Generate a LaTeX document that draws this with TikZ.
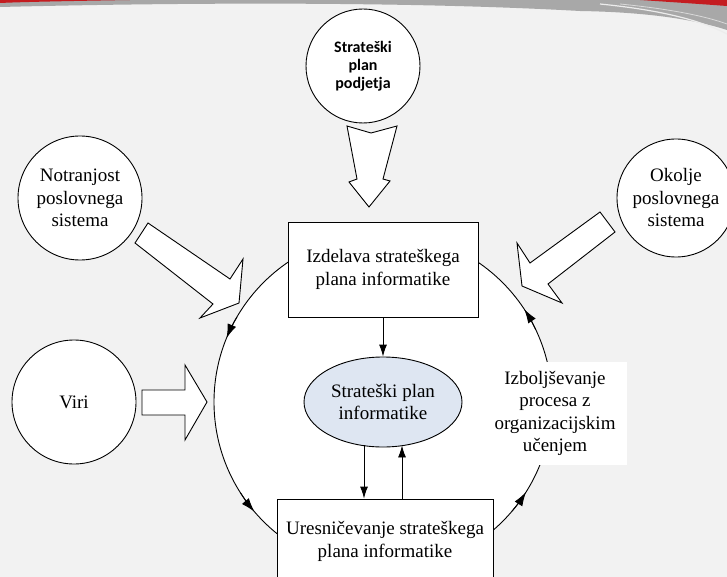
\documentclass[tikz,border=0pt]{standalone}
\usepackage{fontspec}
\setmainfont{Liberation Serif}
\newfontfamily\calib{Carlito}
\usetikzlibrary{arrows.meta,shapes.geometric,calc}
\definecolor{bgc}{RGB}{242,242,242}
\definecolor{bandgray}{RGB}{168,168,168}
\definecolor{bandred}{RGB}{196,28,32}
\definecolor{ellfill}{RGB}{222,230,242}
\tikzset{
  body/.style={font=\fontsize{19}{22.5}\selectfont, align=center},
  boxnode/.style={body, draw, fill=white, inner sep=0pt},
  circnode/.style={body, draw, fill=white, circle, inner sep=0pt},
  blockarrow/.style={draw, fill=white, line join=miter},
  conn/.style={-{Latex[length=12pt,width=8pt]}},
  circarr/.style={-{Latex[length=14pt,width=9pt]}},
}
\begin{document}
\begin{tikzpicture}[x=1pt,y=-1pt,line width=0.9pt]
\useasboundingbox (0,0) rectangle (727,577);
\clip (0,0) rectangle (727,577);
% background
\fill[bgc] (0,0) rectangle (727,577);
\fill[bandgray] (0,0) -- (727,0) -- (727,30) .. controls (690,18) and (640,12) .. (580,11) .. controls (420,2) and (200,2) .. (0,7) -- cycle;
\fill[bandred] (0,0) -- (130,0) .. controls (70,1) and (20,2) .. (0,3) -- cycle;
\fill[bandred] (640,0) -- (727,0) -- (727,6) .. controls (700,4) and (670,2) .. (640,0) -- cycle;
\draw[white!85!gray, line width=1.2pt] (600,4) .. controls (660,10) and (700,20) .. (727,34);
\draw[white!70!gray, line width=0.8pt] (620,4) .. controls (670,9) and (705,16) .. (727,24);

% big cycle circle
\node[circle, draw, fill=white, minimum size=338, inner sep=0pt] (bigc) at (383,402) {};
\foreach \a in {202.2,139.5,32.2,326.7}{
  \pgfmathsetmacro\b{\a+8}
  \draw[circarr] ([shift={(\b:169)}]383,402) arc[start angle=\b, end angle=\a, radius=169];
}

% block arrows
\draw[blockarrow] (347,126) -- (371,133) -- (397,126) -- (383,179) -- (390,181) -- (369,207) -- (349,182) -- (357,179) -- cycle;
\draw[blockarrow] (148,223) -- (230,279) -- (243,259) -- (239,303) -- (200,318) -- (213,304) -- (135,243) -- cycle;
\draw[blockarrow] (600,212) -- (530,263) -- (517,243) -- (522,286) -- (562,303) -- (548,284) -- (615,232) -- cycle;
\draw[blockarrow] (142,390) -- (185,390) -- (185,365) -- (207,402) -- (185,440) -- (185,415) -- (142,415) -- cycle;

% nodes
\node[circnode, minimum size=114, font=\calib\bfseries\fontsize{16}{18}\selectfont] (topc) at (363,66) {Strateški\\plan\\podjetja};
\node[circnode, minimum size=124] (notr) at (80,198) {Notranjost\\poslovnega\\sistema};
\node[circnode, minimum size=124] (viri) at (74,402) {Viri};
\node[circnode, minimum size=118] (okol) at (676,198) {Okolje\\poslovnega\\sistema};

\node[boxnode, minimum width=190, minimum height=95] (izd) at (383,269.5) {Izdelava strateškega\\plana informatike};
\node[body, ellipse, draw, fill=ellfill, minimum width=158, minimum height=90, inner sep=0pt] (spi) at (383,402) {Strateški plan\\informatike};
\node[boxnode, minimum width=216, minimum height=85] (ures) at (385,541.5) {Uresničevanje strateškega\\plana informatike};
\node[body, fill=white, minimum width=144, minimum height=103, inner sep=0pt] (izb) at (555,413.5) {Izboljševanje\\procesa z\\organizacijskim\\učenjem};

% connectors
\draw[conn] (izd) -- (spi);
\coordinate (d1) at ([xshift=-21pt]ures.north);
\coordinate (u1) at ([xshift=17pt]ures.north);
\draw[conn] ([yshift=2pt]spi.south -| d1) -- (d1);
\draw[conn] (u1) -- ([yshift=2pt]spi.south -| u1);
\end{tikzpicture}
\end{document}
